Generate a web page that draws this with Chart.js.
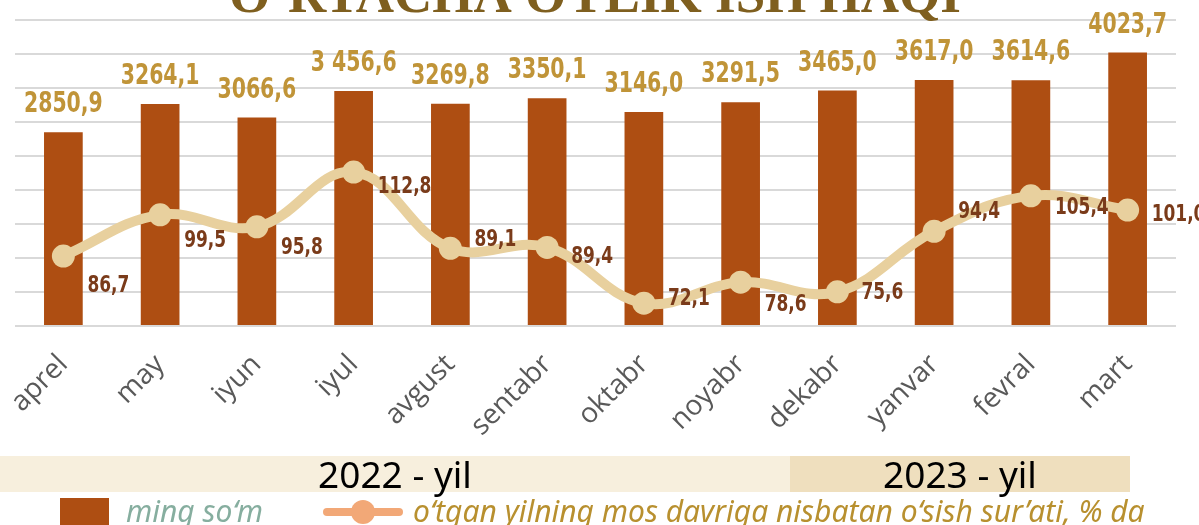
<!DOCTYPE html>
<html>
<head>
<meta charset="utf-8">
<script src="https://cdn.jsdelivr.net/npm/chart.js@4"></script>
<style>
  html, body { margin:0; padding:0; background:#fff; }
  #wrap { position:relative; width:1199px; height:525px; overflow:hidden; }
  #grafica { position:absolute; left:0; top:0; }
  .banda { position:absolute; top:456px; height:36px; line-height:36px; text-align:center;
           font-family:"Noto Sans", sans-serif; font-size:37px; color:#000; }
  .leyenda { position:absolute; top:496px; font-family:"Noto Sans", sans-serif; font-style:italic;
             font-size:30px; line-height:30px; white-space:nowrap; }
</style>
</head>
<body>
<div id="wrap">
  <canvas id="grafica" width="1199" height="525"></canvas>
  <div class="banda" style="left:0;width:790px;background:#f7efdd;">2022 - yil</div>
  <div class="banda" style="left:790px;width:340px;background:#efdfbe;">2023 - yil</div>
  <div style="position:absolute;left:60px;top:498px;width:49px;height:30px;background:#ae4e12;"></div>
  <div class="leyenda" style="left:126px;color:#86ae9f;">ming so‘m</div>
  <div style="position:absolute;left:323px;top:508px;width:80px;height:8px;border-radius:4px;background:#f2a877;"></div>
  <div style="position:absolute;left:351px;top:500px;width:24px;height:24px;border-radius:12px;background:#f2a877;"></div>
  <div class="leyenda" style="left:413px;color:#b8902f;">o‘tgan yilning mos davriga nisbatan o‘sish sur’ati, % da</div>
</div>
<script>
var oylar = ['aprel','may','iyun','iyul','avgust','sentabr','oktabr','noyabr','dekabr','yanvar','fevral','mart'];
var ishHaqi = [2850.9, 3264.1, 3066.6, 3456.6, 3269.8, 3350.1, 3146.0, 3291.5, 3465.0, 3617.0, 3614.6, 4023.7];
var ishHaqiMatn = ['2850,9','3264,1','3066,6','3 456,6','3269,8','3350,1','3146,0','3291,5','3465,0','3617,0','3614,6','4023,7'];
var osishSurati = [86.7, 99.5, 95.8, 112.8, 89.1, 89.4, 72.1, 78.6, 75.6, 94.4, 105.4, 101.0];

// vertical nudge of the growth labels (as placed by hand in the original)
var yorliqSiljish = [30, 26, 21, 15, -8, 10, -4, 23, 1, -19, 12, 5];

var sarlavha = 'O‘RTACHA OYLIK ISH HAQI';

// narrow text: no condensed font installed, so squeeze it
function torMatn(ctx, matn, x, y, siqish){
    ctx.save();
    ctx.translate(x, y);
    ctx.scale(siqish, 1);
    ctx.fillText(matn, 0, 0);
    ctx.restore();
}

var yorliqlar = {
    id: 'yorliqlar',
    afterDatasetsDraw: function(chart){
        var ctx = chart.ctx;
        ctx.save();
        //--bar values
        var barMeta = chart.getDatasetMeta(0);
        ctx.fillStyle = '#c09438';
        ctx.font = 'bold 28px "DejaVu Sans", sans-serif';
        ctx.textAlign = 'center';
        ctx.textBaseline = 'middle';
        barMeta.data.forEach(function(bar, i){
            torMatn(ctx, ishHaqiMatn[i], bar.x, bar.y - 27, 0.73);
        });
        //--growth values
        var lineMeta = chart.getDatasetMeta(1);
        ctx.fillStyle = '#7a3b1a';
        ctx.font = 'bold 23px "DejaVu Sans", sans-serif';
        ctx.textAlign = 'left';
        lineMeta.data.forEach(function(pt, i){
            torMatn(ctx, osishSurati[i].toFixed(1).replace('.', ','), pt.x + 24, pt.y + yorliqSiljish[i], 0.74);
        });
        //--title, cut off by the top edge
        ctx.fillStyle = '#7f5f1f';
        ctx.font = 'bold 53px "Liberation Serif", serif';
        ctx.textAlign = 'center';
        ctx.textBaseline = 'alphabetic';
        ctx.fillText(sarlavha, 595, 12);
        ctx.restore();
    }
};

var grafikCanvas = document.getElementById('grafica');

var ishHaqiData = {
    type: 'bar',
    label: 'ming so‘m',
    data: ishHaqi,
    backgroundColor: '#ae4e12',
    borderWidth: 0,
    barPercentage: 0.4,
    categoryPercentage: 1,
    yAxisID: 'y',
    order: 1
};

var osishData = {
    type: 'line',
    label: 'o‘tgan yilning mos davriga nisbatan o‘sish sur’ati, % da',
    data: osishSurati,
    borderColor: '#e8d09e',
    backgroundColor: '#e8d09e',
    borderWidth: 10,
    pointRadius: 11.5,
    pointBackgroundColor: '#e8d09e',
    pointBorderWidth: 0,
    tension: 0.4,
    fill: false,
    yAxisID: 'y1',
    order: 0
};

var chartOptions = {
    responsive: false,
    animation: false,
    layout: { padding: { left: 15, right: 23, top: 20, bottom: 89 } },
    plugins: {
        legend: { display: false },
        title: { display: false },
        tooltip: { enabled: false }
    },
    scales: {
        x: {
            grid: { display: false },
            border: { display: false },
            ticks: {
                color: '#595959',
                font: { family: '"Open Sans", sans-serif', size: 28 },
                minRotation: 45,
                maxRotation: 45,
                padding: 14
            },
            afterFit: function(scale){ scale.height = 110; }
        },
        y: {
            min: 0,
            max: 4500,
            ticks: { display: false, stepSize: 500 },
            grid: { color: '#d9d9d9', lineWidth: 2, drawTicks: false },
            border: { display: false },
            afterFit: function(scale){ scale.width = 0; }
        },
        y1: {
            display: false,
            min: 65,
            max: 160
        }
    }
};

new Chart(grafikCanvas, {
    data: { labels: oylar, datasets: [ishHaqiData, osishData] },
    options: chartOptions,
    plugins: [yorliqlar]
});
</script>
</body>
</html>
